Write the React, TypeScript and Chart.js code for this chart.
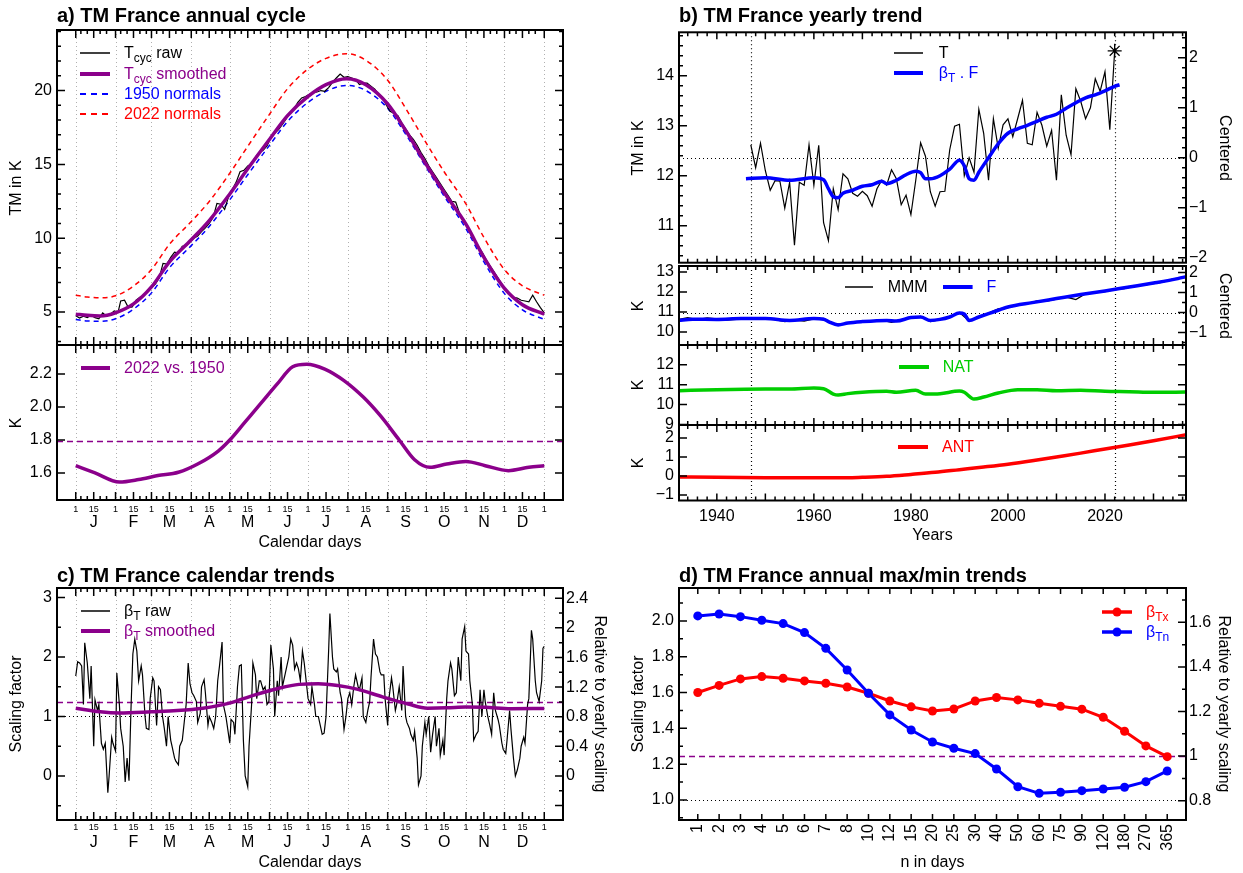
import React, { useEffect, useRef } from "react";
import { Chart, registerables } from "chart.js";

Chart.register(...registerables);

const FONT = "'Liberation Sans', Arial, Helvetica, sans-serif";
Chart.defaults.font.family = FONT;
Chart.defaults.color = "#000";

const PURPLE = "#8B008B";
const BLUE = "#0000FF";
const RED = "#FF0000";
const GREEN = "#00CD00";
const GRID_GRAY = "#b0b0b0";

// ================= panel a : annual cycle =================
const CYC_DAYS = [1, 10, 20, 32, 46, 60, 74, 91, 105, 121, 135, 152, 166, 182, 196, 212, 227, 244, 258, 274, 288, 305, 319, 335, 349, 366];
const T_CYC_SMOOTH = [4.86, 4.78, 4.74, 4.95, 5.55, 6.7, 8.4, 9.9, 11.2, 13.0, 14.7, 16.7, 18.3, 19.6, 20.4, 20.8, 20.4, 19.1, 17.3, 15.0, 13.1, 10.95, 8.7, 6.6, 5.5, 4.86];
const NORMALS_1950 = [4.5, 4.4, 4.37, 4.55, 5.2, 6.3, 8.0, 9.5, 10.8, 12.6, 14.3, 16.3, 17.9, 19.2, 19.95, 20.35, 20.0, 18.8, 17.05, 14.8, 12.85, 10.65, 8.4, 6.25, 5.15, 4.5];
const NORMALS_2022 = [6.14, 6.02, 5.96, 6.1, 6.76, 7.88, 9.59, 11.13, 12.49, 14.4, 16.22, 18.4, 20.12, 21.46, 22.18, 22.5, 22.05, 20.7, 18.8, 16.45, 14.5, 12.32, 10.05, 7.87, 6.78, 6.14];
const T_CYC_RAW: [number, number][] = [[1,4.75],[4,4.6],[7,4.72],[10,4.62],[13,4.78],[16,4.62],[19,4.55],[22,4.95],[25,4.72],[28,4.85],[31,5.08],[34,5.0],[36,5.75],[39,5.8],[42,5.3],[45,5.35],[48,5.8],[51,6.0],[54,6.1],[57,6.4],[60,6.65],[63,6.9],[66,7.3],[69,8.3],[72,8.25],[75,8.7],[78,9.05],[81,9.0],[84,9.45],[87,9.5],[90,9.75],[93,10.0],[96,10.15],[99,10.45],[102,10.7],[105,11.0],[108,11.4],[111,12.35],[114,12.3],[117,11.95],[120,12.8],[123,13.3],[126,13.8],[129,14.5],[132,14.6],[135,14.9],[138,15.05],[141,15.5],[144,15.8],[147,15.95],[150,16.25],[153,16.8],[156,17.1],[159,17.35],[162,17.7],[165,18.1],[168,18.5],[171,18.75],[174,19.2],[177,19.5],[180,19.6],[183,19.75],[186,19.85],[189,19.9],[192,20.0],[195,19.95],[198,20.2],[201,20.55],[204,20.85],[207,21.12],[210,20.9],[213,20.95],[216,20.85],[219,20.75],[222,20.4],[225,20.5],[228,20.5],[231,20.3],[234,20.1],[237,19.75],[240,19.55],[243,19.0],[246,18.6],[249,18.45],[252,18.3],[255,17.8],[258,17.4],[261,17.0],[264,16.7],[267,16.3],[270,15.8],[273,15.4],[276,14.9],[279,14.5],[282,14.1],[285,13.7],[288,13.3],[291,12.9],[294,12.5],[297,12.45],[300,11.7],[303,11.1],[306,10.8],[309,10.2],[312,9.8],[315,9.4],[318,9.0],[321,8.5],[324,8.1],[327,7.7],[330,7.3],[333,6.9],[336,6.45],[339,6.25],[342,6.0],[345,5.95],[348,5.8],[351,5.75],[354,5.7],[357,6.15],[360,5.7],[363,5.3],[366,4.95]];
const DIFF_DAYS = [1, 16, 35, 50, 65, 81, 96, 112, 121, 133, 145, 158, 170, 181, 195, 210, 225, 238, 253, 265, 277, 290, 305, 320, 338, 354, 366];
const DIFF_2022_1950 = [1.644, 1.6, 1.545, 1.56, 1.584, 1.604, 1.654, 1.733, 1.8, 1.91, 2.02, 2.14, 2.244, 2.26, 2.23, 2.16, 2.06, 1.95, 1.8, 1.68, 1.634, 1.654, 1.67, 1.644, 1.614, 1.634, 1.644];
const MEAN_DIFF = 1.795;

// ================= panel b : yearly trend =================
const T_START_YEAR = 1947;
const T_OBS = [12.62,12.16,12.65,12.10,11.71,11.90,11.89,11.35,11.87,10.61,11.87,11.81,12.62,11.81,12.61,11.06,10.70,11.74,11.32,12.04,11.94,11.65,11.59,11.69,11.60,11.39,11.74,11.91,11.81,12.12,11.94,11.42,11.61,11.22,11.91,12.66,12.39,11.68,11.39,11.68,11.69,12.52,12.99,13.03,12.00,12.36,12.07,13.33,12.85,11.91,13.14,12.55,13.02,13.14,12.78,13.14,13.51,12.65,12.62,13.27,13.01,12.59,12.91,11.91,13.62,12.81,12.42,13.74,13.49,13.14,13.36,13.94,13.69,14.08,12.92,14.50];
const BETA_F: [number, number][] = [[1946,11.94],[1950,11.96],[1955,11.91],[1960,11.96],[1962,11.92],[1963,11.74],[1964,11.58],[1965,11.56],[1966,11.65],[1968,11.71],[1970,11.79],[1972,11.82],[1974,11.89],[1975,11.84],[1977,11.91],[1979,12.02],[1981,12.09],[1982,12.06],[1983,11.94],[1984,11.94],[1986,12.0],[1988,12.13],[1990,12.31],[1991,12.2],[1992,11.94],[1993,11.91],[1994,12.07],[1996,12.36],[1998,12.64],[2000,12.85],[2002,12.94],[2004,13.01],[2006,13.09],[2008,13.17],[2010,13.23],[2012,13.35],[2014,13.46],[2016,13.56],[2018,13.62],[2020,13.7],[2022,13.79],[2023,13.82]];
const T_CENTER = 12.36;
const F_YEARS = [1932,1935,1940,1945,1950,1955,1960,1962,1963,1965,1967,1970,1975,1977,1980,1982,1984,1986,1988,1990,1991,1992,1994,1997,2000,2005,2010,2015,2020,2025,2030,2035,2037];
const F_VALS = [10.58,10.64,10.63,10.67,10.67,10.58,10.67,10.64,10.52,10.35,10.45,10.52,10.58,10.55,10.72,10.75,10.58,10.63,10.75,10.95,10.9,10.58,10.75,11.0,11.25,11.47,11.67,11.87,12.05,12.25,12.45,12.67,12.78];
const MMM: [number, number][] = [[1932,10.62],[1934,10.72],[1936,10.62],[1938,10.7],[1940,10.66],[1942,10.6],[1944,10.63],[1946,10.72],[1948,10.68],[1950,10.66],[1952,10.62],[1954,10.52],[1956,10.6],[1958,10.55],[1960,10.66],[1962,10.68],[1964,10.42],[1966,10.38],[1968,10.48],[1970,10.5],[1972,10.55],[1974,10.6],[1976,10.48],[1978,10.6],[1980,10.7],[1982,10.78],[1984,10.52],[1986,10.62],[1988,10.78],[1990,10.97],[1992,10.55],[1994,10.78],[1996,10.95],[1998,11.15],[2000,11.22],[2002,11.35],[2004,11.42],[2006,11.55],[2008,11.55],[2010,11.65],[2012,11.75],[2014,11.62],[2016,11.92],[2018,11.97],[2020,12.02],[2022,12.12],[2024,12.17],[2026,12.3],[2028,12.35],[2030,12.42],[2032,12.5],[2034,12.65],[2036,12.72]];
const F_CENTER = 10.97;
const NAT: [number, number][] = [[1932,10.7],[1940,10.75],[1950,10.78],[1955,10.78],[1960,10.83],[1962,10.8],[1964,10.53],[1965,10.48],[1967,10.55],[1970,10.62],[1975,10.67],[1977,10.62],[1981,10.72],[1983,10.53],[1986,10.55],[1990,10.68],[1991,10.62],[1993,10.28],[1995,10.38],[1998,10.58],[2002,10.75],[2006,10.75],[2010,10.7],[2015,10.72],[2020,10.67],[2025,10.65],[2030,10.62],[2037,10.63]];
const ANT: [number, number][] = [[1932,-0.05],[1940,-0.07],[1950,-0.09],[1960,-0.1],[1965,-0.1],[1970,-0.07],[1975,-0.02],[1980,0.08],[1985,0.19],[1990,0.33],[1995,0.47],[2000,0.62],[2005,0.8],[2010,1.0],[2015,1.2],[2020,1.42],[2025,1.63],[2030,1.85],[2037,2.18]];
const REF_YEARS = [1947, 2022];

// ================= panel c : calendar trends =================
const BETA_SMOOTH_DAYS = [1, 20, 35, 60, 80, 100, 120, 140, 160, 175, 190, 205, 220, 240, 260, 275, 290, 305, 320, 340, 366];
const BETA_SMOOTH = [1.14, 1.08, 1.06, 1.08, 1.1, 1.14, 1.22, 1.36, 1.48, 1.54, 1.55, 1.52, 1.46, 1.33, 1.21, 1.14, 1.145, 1.16, 1.155, 1.13, 1.135];
const BETA_RAW: [number, number][] = [[1,1.68],[2.5,1.92],[4,1.9],[5.6,1.85],[7,1.2],[8,2.24],[10,1.9],[12,1.3],[13,1.85],[15,0.5],[16,1.28],[18,1.1],[19,1.2],[21,0.55],[22.5,0.45],[24,0.55],[26,-0.28],[27,0.0],[29,0.65],[30,0.55],[32,0.42],[33,1.73],[35,1.2],[36,0.8],[38,0.5],[39.5,-0.1],[41,0.3],[42.5,-0.08],[44,1.1],[45.5,2.05],[47,2.3],[48.6,2.1],[50,1.6],[52,1.85],[53,1.7],[55,1.0],[56,0.8],[58,0.78],[59,1.3],[61,1.65],[62,1.6],[64,0.85],[65.5,1.5],[67,1.45],[68.6,1.0],[70,0.8],[71.7,0.5],[73,1.0],[75,0.6],[76,0.5],[78,0.3],[79,0.25],[81,0.19],[82,0.5],[84,0.6],[85.5,0.9],[87,1.2],[88.6,1.9],[90,1.55],[91.6,1.4],[93,1.35],[95,1.25],[96,0.9],[98,1.05],[99,1.5],[101,1.62],[102,1.4],[104,0.85],[105,1.0],[107,0.9],[108.5,0.8],[110,1.0],[111.6,1.6],[113,1.85],[115,2.25],[116,1.2],[118,1.0],[119,0.85],[121,0.55],[122,0.95],[124,0.9],[125,0.7],[127,1.5],[128.5,1.85],[130,1.87],[131.6,0.6],[133,0.0],[135,-0.18],[136,0.5],[138,1.2],[139,1.9],[141,1.7],[142,1.3],[144,1.6],[145,1.6],[147,1.45],[148.5,1.5],[150,1.2],[151.5,1.25],[153,2.2],[155,1.8],[156,1.0],[158,1.6],[159,1.35],[161,2.0],[162,1.5],[164,1.7],[165,1.8],[167,2.0],[168.5,2.3],[170,2.2],[171.5,1.8],[173,1.9],[174.5,1.8],[176,1.6],[177.6,2.1],[179,1.9],[181,1.5],[182,1.3],[184,1.2],[185,1.5],[187,1.2],[188,1.0],[190,1.0],[191.5,0.85],[193,0.7],[194.5,0.72],[196,1.0],[198,2.1],[199,2.73],[201,2.0],[202,1.8],[204,1.75],[205,1.8],[207,1.4],[208,1.3],[210,0.78],[211.5,1.0],[213,1.3],[214.5,1.4],[216,1.2],[217.6,1.5],[219,1.7],[221,1.5],[222,1.45],[224,1.65],[225,1.0],[227,0.9],[228.5,1.1],[230,1.25],[231,1.65],[233,2.3],[234.5,2.05],[236,2.0],[238,1.75],[239,1.7],[241,1.7],[242,1.3],[244,0.85],[245,1.3],[247,1.65],[248,1.5],[250,1.1],[251,1.2],[253,1.5],[255,1.1],[256,1.85],[258,1.0],[259,0.9],[261,0.8],[262,0.7],[264,0.6],[265,0.75],[267,0.3],[268,-0.15],[270,0.0],[271,0.5],[273,0.9],[274,0.7],[276,1.0],[277.5,0.4],[279,0.7],[281,1.0],[282,0.5],[284,0.8],[285,0.35],[287,0.6],[288,0.35],[290,1.3],[291,1.6],[293,1.9],[294,1.8],[296,1.35],[297.5,1.4],[299,2.0],[301,1.6],[302,2.3],[304,2.51],[305,2.1],[307,2.05],[308,1.6],[310,1.2],[311,0.6],[313,0.7],[314.5,0.75],[316,1.45],[317.4,1.0],[319,1.45],[320,1.25],[322,1.0],[323.6,0.85],[325,0.7],[326.6,1.4],[328,1.1],[330,0.95],[331,0.85],[333,0.55],[334,0.45],[336,0.38],[337,0.6],[339,1.1],[340,0.8],[342,0.3],[343.5,0.0],[345,0.1],[347,0.3],[348,0.5],[350,0.65],[351,0.55],[353,1.2],[354,1.3],[356,2.45],[357,2.3],[359,1.6],[360,1.4],[362,1.25],[364,1.6],[365,2.15],[366,2.18]];
const YEARLY_BETA = 1.245;

// ================= panel d : annual max/min trends =================
const N_DAYS = ["1","2","3","4","5","6","7","8","10","12","15","20","25","30","40","50","60","75","90","120","180","270","365"];
const BETA_TX = [1.6, 1.64, 1.676, 1.689, 1.68, 1.665, 1.652, 1.631, 1.596, 1.553, 1.52, 1.497, 1.508, 1.553, 1.572, 1.559, 1.54, 1.523, 1.507, 1.462, 1.384, 1.302, 1.242];
const BETA_TN = [2.028, 2.039, 2.024, 2.004, 1.985, 1.935, 1.847, 1.726, 1.596, 1.475, 1.391, 1.324, 1.289, 1.259, 1.173, 1.074, 1.037, 1.043, 1.052, 1.061, 1.071, 1.102, 1.162];

// ================= axes / tick labels =================
const MONTH_START = [1, 32, 60, 91, 121, 152, 182, 213, 244, 274, 305, 335, 366];
const MONTH_LETTERS = ["J","F","M","A","M","J","J","A","S","O","N","D"];
const MID_MONTH = MONTH_START.slice(0, 12).map((d) => d + 14);
const DAY_MINOR = MONTH_START.slice(0, 12).flatMap((d) => [d + 4, d + 9, d + 19, d + 24]);
const DAY_MAJOR = [...MONTH_START, ...MID_MONTH];
const DAY_MIN = -13.6, DAY_MAX = 380.6;
const YEAR_MIN = 1932.2, YEAR_MAX = 2036.7;
const N_MIN = -0.88, N_MAX = 22.88;
const YEAR_LABELS = [1940, 1960, 1980, 2000, 2020];

const A1_Y = [2.77, 24.1], A2_Y = [1.436, 2.376];
const B1_Y = [10.26, 14.87], B2_Y = [9.35, 13.3], B3_Y = [8.97, 13.0], B4_Y = [-1.29, 2.68];
const C_Y = [-0.74, 3.16], D_Y = [0.888, 2.184];

// ================= helpers =================
const range = (a: number, b: number, s: number) => { const r: number[] = []; for (let v = a; v <= b + 1e-9; v += s) r.push(+v.toFixed(6)); return r; };
const without = (arr: number[], ex: number[]) => arr.filter((v) => !ex.some((e) => Math.abs(e - v) < 1e-6));
const pts = (xs: number[], ys: number[]) => xs.map((x, i) => ({ x, y: ys[i] }));
const pairs = (a: [number, number][]) => a.map(([x, y]) => ({ x, y }));
const minus = (s: string) => s.replace("-", "\u2212");
const fmtG = (v: number) => minus(String(+v.toFixed(2)));
const fmt1 = (v: number) => v.toFixed(1);

const YEAR_MAJOR = range(1940, 2030, 10);
const YEAR_MINOR = without(range(1934, 2036, 2), YEAR_MAJOR);

type Side = "left" | "right" | "top" | "bottom";
type TickSet = { scale: string; side: Side; values: number[]; len: number };
type LineSpec = { scale: string; value: number; color: string; dash: number[]; width: number };
type FrameCfg = { ticks: TickSet[]; hlines?: LineSpec[]; vlines?: LineSpec[] };

function framePlugin(cfg: FrameCfg) {
  return {
    id: "frame",
    beforeDatasetsDraw(chart: any) {
      const { ctx, chartArea: a } = chart;
      ctx.save();
      ctx.beginPath();
      ctx.rect(a.left, a.top, a.right - a.left, a.bottom - a.top);
      ctx.clip();
      for (const l of cfg.vlines ?? []) {
        const p = Math.round(chart.scales[l.scale].getPixelForValue(l.value)) + 0.5;
        ctx.beginPath(); ctx.setLineDash(l.dash); ctx.strokeStyle = l.color; ctx.lineWidth = l.width;
        ctx.moveTo(p, a.top); ctx.lineTo(p, a.bottom); ctx.stroke();
      }
      for (const l of cfg.hlines ?? []) {
        const p = Math.round(chart.scales[l.scale].getPixelForValue(l.value)) + 0.5;
        ctx.beginPath(); ctx.setLineDash(l.dash); ctx.strokeStyle = l.color; ctx.lineWidth = l.width;
        ctx.moveTo(a.left, p); ctx.lineTo(a.right, p); ctx.stroke();
      }
      ctx.restore();
    },
    afterDatasetsDraw(chart: any) {
      const { ctx, chartArea: a } = chart;
      ctx.save();
      ctx.setLineDash([]);
      ctx.strokeStyle = "#000";
      ctx.lineWidth = 1.5;
      for (const t of cfg.ticks) {
        const sc = chart.scales[t.scale];
        ctx.beginPath();
        for (const v of t.values) {
          const p = sc.getPixelForValue(v);
          if (t.side === "left") { ctx.moveTo(a.left, p); ctx.lineTo(a.left + t.len, p); }
          else if (t.side === "right") { ctx.moveTo(a.right, p); ctx.lineTo(a.right - t.len, p); }
          else if (t.side === "top") { ctx.moveTo(p, a.top); ctx.lineTo(p, a.top + t.len); }
          else { ctx.moveTo(p, a.bottom); ctx.lineTo(p, a.bottom - t.len); }
        }
        ctx.stroke();
      }
      ctx.lineWidth = 2;
      ctx.strokeRect(a.left, a.top, a.right - a.left, a.bottom - a.top);
      ctx.restore();
    },
  };
}

function lin(o: { axis: "x" | "y"; position: string; min: number; max: number; size: number; labels?: number[]; fmt?: (v: number) => string; fontSize?: number; padding?: number; weight?: number; rotation?: number }) {
  return {
    type: "linear",
    axis: o.axis,
    position: o.position,
    min: o.min,
    max: o.max,
    bounds: "data",
    weight: o.weight ?? 0,
    offset: false,
    grid: { display: false, drawTicks: false, drawOnChartArea: false },
    border: { display: false },
    ticks: {
      display: !!o.labels,
      autoSkip: false,
      maxRotation: o.rotation ?? 0,
      minRotation: o.rotation ?? 0,
      padding: o.padding ?? 5,
      color: "#000",
      font: { family: FONT, size: o.fontSize ?? 16 },
      callback: (v: number) => (o.fmt ? o.fmt(v) : String(v)),
    },
    afterBuildTicks: (s: any) => { s.ticks = (o.labels ?? [o.min]).map((v) => ({ value: v })); },
    afterFit: (s: any) => {
      if (o.axis === "y") s.width = o.size; else s.height = o.size;
      s.paddingTop = 0; s.paddingBottom = 0; s.paddingLeft = 0; s.paddingRight = 0;
    },
  };
}

const line = (data: any[], color: string, width: number, extra: any = {}) => ({
  data, borderColor: color, backgroundColor: color, borderWidth: width, pointRadius: 0, fill: false, ...extra,
});

function config(datasets: any[], scales: any, padding: any, frame: FrameCfg) {
  return {
    type: "line",
    data: { datasets },
    options: {
      responsive: false, maintainAspectRatio: false, animation: false, events: [],
      layout: { padding },
      plugins: { legend: { display: false }, tooltip: { enabled: false }, title: { display: false } },
      scales,
    },
    plugins: [framePlugin(frame)],
  };
}

const ySide = (scale: string, side: Side, major: number[], minor: number[] = [], lm = 8, ln = 4): TickSet[] => [
  { scale, side, values: major, len: lm },
  { scale, side, values: minor, len: ln },
];
const xSides = (scale: string, major: number[], minor: number[], lm = 8, ln = 4): TickSet[] =>
  (["top", "bottom"] as Side[]).flatMap((side) => [{ scale, side, values: major, len: lm }, { scale, side, values: minor, len: ln }]);
const monthLines = (): LineSpec[] => MONTH_START.map((v) => ({ scale: "x", value: v, color: GRID_GRAY, dash: [1, 3], width: 1 }));
const yearLines = (): LineSpec[] => REF_YEARS.map((v) => ({ scale: "x", value: v, color: "#000", dash: [1, 3], width: 1.2 }));
const dottedH = (v: number, scale = "y"): LineSpec => ({ scale, value: v, color: "#000", dash: [1, 3], width: 1.2 });
const dashedH = (v: number): LineSpec => ({ scale: "y", value: v, color: PURPLE, dash: [6, 4], width: 1.5 });
const monotone = { cubicInterpolationMode: "monotone" };

// ================= chart builders =================
const makeA1 = () => config(
  [
    line(pts(CYC_DAYS, T_CYC_SMOOTH), PURPLE, 3.5, monotone),
    line(pairs(T_CYC_RAW), "#000", 1.2),
    line(pts(CYC_DAYS, NORMALS_1950), BLUE, 1.5, { ...monotone, borderDash: [5, 4] }),
    line(pts(CYC_DAYS, NORMALS_2022), RED, 1.5, { ...monotone, borderDash: [5, 4] }),
  ],
  {
    x: lin({ axis: "x", position: "bottom", min: DAY_MIN, max: DAY_MAX, size: 5 }),
    y: lin({ axis: "y", position: "left", min: A1_Y[0], max: A1_Y[1], size: 57, labels: [5, 10, 15, 20] }),
  },
  { top: 6, right: 47, left: 0, bottom: 0 },
  {
    ticks: [
      ...ySide("y", "left", [5, 10, 15, 20], without(range(3, 24, 1), [5, 10, 15, 20])),
      ...ySide("y", "right", [5, 10, 15, 20], without(range(3, 24, 1), [5, 10, 15, 20])),
      ...xSides("x", DAY_MAJOR, DAY_MINOR),
    ],
    vlines: monthLines(),
  }
);

const dayAxes = (smallPad: number, monthPad: number, monthSize: number) => ({
  x: lin({ axis: "x", position: "bottom", min: DAY_MIN, max: DAY_MAX, size: 12, labels: DAY_MAJOR, fontSize: 9, padding: smallPad, weight: 0, fmt: (v) => (MONTH_START.includes(v) ? "1" : "15") }),
  xMonth: lin({ axis: "x", position: "bottom", min: DAY_MIN, max: DAY_MAX, size: monthSize, labels: MID_MONTH, fontSize: 16, padding: monthPad, weight: 1, fmt: (v) => MONTH_LETTERS[MID_MONTH.indexOf(v)] ?? "" }),
});

const makeA2 = () => config(
  [line(pts(DIFF_DAYS, DIFF_2022_1950), PURPLE, 3.5, monotone)],
  {
    ...dayAxes(4.5, 1, 38),
    y: lin({ axis: "y", position: "left", min: A2_Y[0], max: A2_Y[1], size: 57, labels: [1.6, 1.8, 2.0, 2.2], fmt: fmt1 }),
  },
  { top: 6, right: 47, left: 0, bottom: 0 },
  {
    ticks: [
      ...ySide("y", "left", [1.6, 1.8, 2.0, 2.2]),
      ...ySide("y", "right", [1.6, 1.8, 2.0, 2.2]),
      ...xSides("x", DAY_MAJOR, DAY_MINOR),
    ],
    vlines: monthLines(),
    hlines: [dashedH(MEAN_DIFF)],
  }
);

const yearAxis = (size: number, labels?: number[]) =>
  lin({ axis: "x", position: "bottom", min: YEAR_MIN, max: YEAR_MAX, size, labels, padding: 6 });

const makeB1 = () => config(
  [
    line([{ x: 2022, y: 14.5 }], "#000", 1.3, { showLine: false, pointStyle: "star", pointRadius: 7, pointBorderWidth: 1.3, pointBorderColor: "#000" }),
    line(pairs(BETA_F), BLUE, 3.5, monotone),
    line(T_OBS.map((v, i) => ({ x: T_START_YEAR + i, y: v })), "#000", 1.2),
  ],
  {
    x: yearAxis(5),
    y: lin({ axis: "y", position: "left", min: B1_Y[0], max: B1_Y[1], size: 69, labels: [11, 12, 13, 14] }),
    yr: lin({ axis: "y", position: "right", min: B1_Y[0] - T_CENTER, max: B1_Y[1] - T_CENTER, size: 57, labels: [-2, -1, 0, 1, 2], fmt: fmtG, padding: 3 }),
  },
  { top: 6, right: 0, left: 0, bottom: 0 },
  {
    ticks: [
      ...ySide("y", "left", [11, 12, 13, 14], without(range(10.4, 14.8, 0.2), [11, 12, 13, 14])),
      ...ySide("yr", "right", [-2, -1, 0, 1, 2], without(range(-1.8, 2.4, 0.2), [-2, -1, 0, 1, 2])),
      ...xSides("x", YEAR_MAJOR, YEAR_MINOR, 7, 4),
    ],
    vlines: yearLines(),
    hlines: [dottedH(T_CENTER)],
  }
);

const makeB2 = () => config(
  [
    line(pts(F_YEARS, F_VALS), BLUE, 3.5, monotone),
    line(pairs(MMM), "#000", 1.3),
  ],
  {
    x: yearAxis(5),
    y: lin({ axis: "y", position: "left", min: B2_Y[0], max: B2_Y[1], size: 69, labels: [10, 11, 12, 13] }),
    yr: lin({ axis: "y", position: "right", min: B2_Y[0] - F_CENTER, max: B2_Y[1] - F_CENTER, size: 57, labels: [-1, 0, 1, 2], fmt: fmtG, padding: 3 }),
  },
  { top: 6, right: 0, left: 0, bottom: 0 },
  {
    ticks: [
      ...ySide("y", "left", [10, 11, 12, 13]),
      ...ySide("yr", "right", [-1, 0, 1, 2], [-1.5, -0.5, 0.5, 1.5]),
      ...xSides("x", YEAR_MAJOR, YEAR_MINOR, 7, 4),
    ],
    vlines: yearLines(),
    hlines: [dottedH(F_CENTER)],
  }
);

const makeB3 = () => config(
  [line(pairs(NAT), GREEN, 3.5, monotone)],
  {
    x: yearAxis(10),
    y: lin({ axis: "y", position: "left", min: B3_Y[0], max: B3_Y[1], size: 69, labels: [9, 10, 11, 12] }),
  },
  { top: 6, right: 57, left: 0, bottom: 0 },
  {
    ticks: [
      ...ySide("y", "left", [9, 10, 11, 12]),
      ...ySide("y", "right", [9, 10, 11, 12]),
      ...xSides("x", YEAR_MAJOR, YEAR_MINOR, 7, 4),
    ],
    vlines: yearLines(),
  }
);

const makeB4 = () => config(
  [line(pairs(ANT), RED, 3.5, monotone)],
  {
    x: yearAxis(44.5, YEAR_LABELS),
    y: lin({ axis: "y", position: "left", min: B4_Y[0], max: B4_Y[1], size: 69, labels: [-1, 0, 1, 2], fmt: fmtG }),
  },
  { top: 6, right: 57, left: 0, bottom: 0 },
  {
    ticks: [
      ...ySide("y", "left", [-1, 0, 1, 2]),
      ...ySide("y", "right", [-1, 0, 1, 2]),
      ...xSides("x", YEAR_MAJOR, YEAR_MINOR, 7, 4),
    ],
    vlines: yearLines(),
  }
);

const C_RLABELS = [0, 0.4, 0.8, 1.2, 1.6, 2, 2.4];
const makeC = () => config(
  [
    line(pts(BETA_SMOOTH_DAYS, BETA_SMOOTH), PURPLE, 3.5, monotone),
    line(pairs(BETA_RAW), "#000", 1.2),
  ],
  {
    ...dayAxes(2.5, 0.5, 31),
    y: lin({ axis: "y", position: "left", min: C_Y[0], max: C_Y[1], size: 57, labels: [0, 1, 2, 3] }),
    yr: lin({ axis: "y", position: "right", min: C_Y[0] / YEARLY_BETA, max: C_Y[1] / YEARLY_BETA, size: 57, labels: C_RLABELS, fmt: fmtG, padding: 3 }),
  },
  { top: 6, right: 0, left: 0, bottom: 0 },
  {
    ticks: [
      ...ySide("y", "left", [0, 1, 2, 3], [-0.5, 0.5, 1.5, 2.5]),
      ...ySide("yr", "right", [-0.4, ...C_RLABELS], without(range(-0.4, 2.4, 0.2), [-0.4, ...C_RLABELS])),
      ...xSides("x", DAY_MAJOR, DAY_MINOR),
    ],
    vlines: monthLines(),
    hlines: [dottedH(1), dashedH(YEARLY_BETA)],
  }
);

const D_LLABELS = [1.0, 1.2, 1.4, 1.6, 1.8, 2.0];
const D_RLABELS = [0.8, 1, 1.2, 1.4, 1.6];
const N_IDX = N_DAYS.map((_, i) => i);
const makeD = () => config(
  [
    line(pts(N_IDX, BETA_TN), BLUE, 3, { pointRadius: 4.5, pointBackgroundColor: BLUE, pointBorderWidth: 0 }),
    line(pts(N_IDX, BETA_TX), RED, 3, { pointRadius: 4.5, pointBackgroundColor: RED, pointBorderWidth: 0 }),
  ],
  {
    x: lin({ axis: "x", position: "bottom", min: N_MIN, max: N_MAX, size: 53, labels: N_IDX, rotation: 90, padding: 4, fmt: (v) => N_DAYS[Math.round(v)] ?? "" }),
    y: lin({ axis: "y", position: "left", min: D_Y[0], max: D_Y[1], size: 69, labels: D_LLABELS, fmt: fmt1 }),
    yr: lin({ axis: "y", position: "right", min: D_Y[0] / YEARLY_BETA, max: D_Y[1] / YEARLY_BETA, size: 57, labels: D_RLABELS, fmt: fmtG, padding: 3 }),
  },
  { top: 6, right: 0, left: 0, bottom: 0 },
  {
    ticks: [
      ...ySide("y", "left", D_LLABELS, without(range(0.9, 2.1, 0.1), D_LLABELS)),
      ...ySide("yr", "right", D_RLABELS, without(range(0.8, 1.7, 0.1), D_RLABELS)),
      ...xSides("x", N_IDX, [], 6, 4),
    ],
    hlines: [dottedH(1), dashedH(YEARLY_BETA)],
  }
);

// ================= React components =================
function Panel({ x, y, w, h, make }: { x: number; y: number; w: number; h: number; make: () => any }) {
  const ref = useRef<HTMLCanvasElement>(null);
  useEffect(() => {
    const chart = new Chart(ref.current as HTMLCanvasElement, make());
    return () => chart.destroy();
  }, []);
  return <canvas ref={ref} width={w} height={h} style={{ position: "absolute", left: x, top: y, width: w, height: h }} />;
}

function Txt({ x, y, s = 16, c = "#000", b = false, a = "l", r = 0, children }: any) {
  const tx = a === "l" ? "0" : a === "c" ? "-50%" : "-100%";
  return (
    <div style={{ position: "absolute", left: x, top: y, transform: `translate(${tx}, -50%)${r ? ` rotate(${r}deg)` : ""}`, fontFamily: FONT, fontSize: s, fontWeight: b ? "bold" : "normal", color: c, lineHeight: 1, whiteSpace: "nowrap" }}>
      {children}
    </div>
  );
}
const Sub = ({ children }: any) => <span style={{ fontSize: 12, position: "relative", top: 4 }}>{children}</span>;

function Sw({ x1, x2, y, c, w, dash, dot }: any) {
  const L = x2 - x1;
  return (
    <svg style={{ position: "absolute", left: x1 - 6, top: y - 6 }} width={L + 12} height={12}>
      <line x1={6} y1={6} x2={L + 6} y2={6} stroke={c} strokeWidth={w} strokeDasharray={dash} />
      {dot ? <circle cx={L / 2 + 6} cy={6} r={4.5} fill={c} /> : null}
    </svg>
  );
}

export default function App() {
  return (
    <div style={{ position: "absolute", left: 0, top: 0, width: 1243, height: 873, background: "#fff", overflow: "hidden", fontFamily: FONT }}>
      <Panel x={0} y={24} w={610} h={326} make={makeA1} />
      <Panel x={0} y={339} w={610} h={211} make={makeA2} />
      <Panel x={610} y={24} w={633} h={247} make={makeB1} />
      <Panel x={610} y={260} w={633} h={90} make={makeB2} />
      <Panel x={610} y={339} w={633} h={96} make={makeB3} />
      <Panel x={610} y={419} w={633} h={126} make={makeB4} />
      <Panel x={0} y={582} w={620} h={281} make={makeC} />
      <Panel x={610} y={582} w={633} h={291} make={makeD} />

      {/* titles */}
      <Txt x={57} y={14.5} s={20} b>a) TM France annual cycle</Txt>
      <Txt x={679} y={14.5} s={20} b>b) TM France yearly trend</Txt>
      <Txt x={57} y={574.5} s={20} b>c) TM France calendar trends</Txt>
      <Txt x={679} y={575} s={20} b>d) TM France annual max/min trends</Txt>

      {/* axis titles */}
      <Txt x={16} y={187.5} a="c" r={-90}>TM in K</Txt>
      <Txt x={16} y={422.5} a="c" r={-90}>K</Txt>
      <Txt x={310} y={542} a="c">Calendar days</Txt>
      <Txt x={638} y={148} a="c" r={-90}>TM in K</Txt>
      <Txt x={638} y={305.5} a="c" r={-90}>K</Txt>
      <Txt x={638} y={385} a="c" r={-90}>K</Txt>
      <Txt x={638} y={463} a="c" r={-90}>K</Txt>
      <Txt x={1225} y={148} a="c" r={90}>Centered</Txt>
      <Txt x={1225} y={305.5} a="c" r={90}>Centered</Txt>
      <Txt x={932.5} y={535} a="c">Years</Txt>
      <Txt x={16} y={704} a="c" r={-90}>Scaling factor</Txt>
      <Txt x={600} y={704} a="c" r={90}>Relative to yearly scaling</Txt>
      <Txt x={310} y={862} a="c">Calendar days</Txt>
      <Txt x={638} y={704} a="c" r={-90}>Scaling factor</Txt>
      <Txt x={1224} y={704} a="c" r={90}>Relative to yearly scaling</Txt>
      <Txt x={932.5} y={862} a="c">n in days</Txt>

      {/* legend a1 */}
      <Sw x1={80} x2={110} y={53.3} c="#000" w={1.5} />
      <Txt x={124} y={53.3}>T<Sub>cyc</Sub> raw</Txt>
      <Sw x1={80} x2={110} y={74} c={PURPLE} w={4} />
      <Txt x={124} y={74} c={PURPLE}>T<Sub>cyc</Sub> smoothed</Txt>
      <Sw x1={80} x2={110} y={94.3} c={BLUE} w={2} dash="6 5" />
      <Txt x={124} y={94.3} c={BLUE}>1950 normals</Txt>
      <Sw x1={80} x2={110} y={113.7} c={RED} w={2} dash="6 5" />
      <Txt x={124} y={113.7} c={RED}>2022 normals</Txt>

      {/* legend a2 */}
      <Sw x1={81} x2={110} y={368.3} c={PURPLE} w={4} />
      <Txt x={124} y={368.3} c={PURPLE}>2022 vs. 1950</Txt>

      {/* legend b */}
      <Sw x1={894} x2={923} y={53.3} c="#000" w={1.5} />
      <Txt x={938.7} y={53.3}>T</Txt>
      <Sw x1={894} x2={923} y={72.7} c={BLUE} w={4} />
      <Txt x={938.7} y={72.7} c={BLUE}>β<Sub>T</Sub> . F</Txt>
      <Sw x1={845} x2={873} y={287.3} c="#000" w={1.5} />
      <Txt x={887.7} y={287.3}>MMM</Txt>
      <Sw x1={943} x2={972.6} y={287.3} c={BLUE} w={4} />
      <Txt x={986.5} y={287.3} c={BLUE}>F</Txt>
      <Sw x1={899} x2={929} y={367.3} c={GREEN} w={4} />
      <Txt x={942.7} y={367.3} c={GREEN}>NAT</Txt>
      <Sw x1={898} x2={928} y={447.3} c={RED} w={4} />
      <Txt x={942} y={447.3} c={RED}>ANT</Txt>

      {/* legend c */}
      <Sw x1={81} x2={110} y={611} c="#000" w={1.5} />
      <Txt x={124} y={611}>β<Sub>T</Sub> raw</Txt>
      <Sw x1={81} x2={110} y={631} c={PURPLE} w={4} />
      <Txt x={124} y={631} c={PURPLE}>β<Sub>T</Sub> smoothed</Txt>

      {/* legend d */}
      <Sw x1={1102} x2={1132} y={611.7} c={RED} w={3.5} dot />
      <Txt x={1146} y={611.7} c={RED}>β<Sub>Tx</Sub></Txt>
      <Sw x1={1102} x2={1132} y={631.7} c={BLUE} w={3.5} dot />
      <Txt x={1146} y={631.7} c={BLUE}>β<Sub>Tn</Sub></Txt>
    </div>
  );
}
